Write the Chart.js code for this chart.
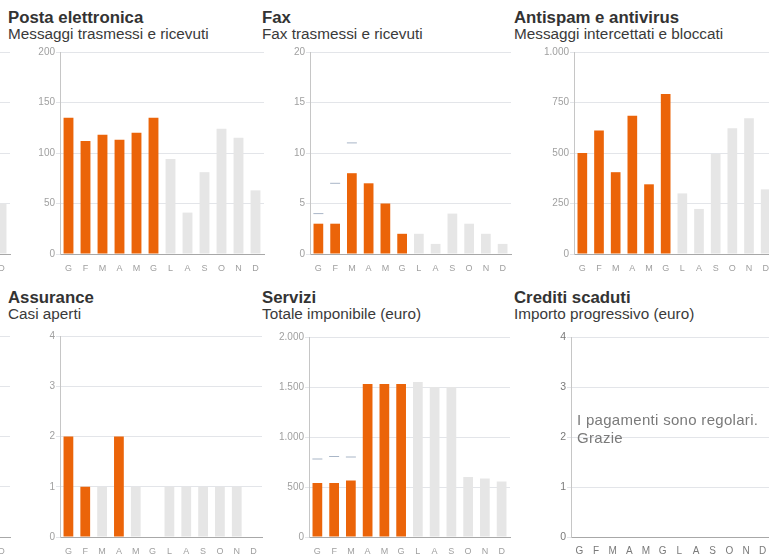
<!DOCTYPE html>
<html><head><meta charset="utf-8">
<script src="https://cdn.jsdelivr.net/npm/chart.js@4/dist/chart.umd.min.js"></script>
<style>
html,body{margin:0;padding:0;background:#fff;}
#wrap{position:relative;width:769px;height:559px;overflow:hidden;font-family:'Liberation Sans',Arial,sans-serif;background:#fff;}
.t{position:absolute;font-weight:bold;font-size:16.8px;line-height:16.8px;color:#333;white-space:nowrap;}
.s{position:absolute;font-size:15.3px;line-height:15.3px;color:#3a3a3a;white-space:nowrap;}
.note{position:absolute;font-size:15px;line-height:18px;letter-spacing:0.3px;color:#7a7a7a;white-space:nowrap;}
canvas{position:absolute;}
</style></head>
<body><div id="wrap"></div>
<script>
// ---- data ----
const months = ['G','F','M','A','M','G','L','A','S','O','N','D'];

const postaCurrent  = [135,112,118,113,120,135,null,null,null,null,null,null];
const postaPrevious = [null,null,null,null,null,null,94,41,81,124,115,63];

const faxCurrent  = [3,3,8,7,5,2,null,null,null,null,null,null];
const faxPrevious = [null,null,null,null,null,null,2,1,4,3,2,1];
const faxMarks    = [4,7,11,null,null,null,null,null,null,null,null,null];

const antispamCurrent  = [500,612,405,685,345,792,null,null,null,null,null,null];
const antispamPrevious = [null,null,null,null,null,null,300,223,495,622,672,320];

const assuranceCurrent  = [2,1,null,2,null,null,null,null,null,null,null,null];
const assurancePrevious = [null,null,1,null,1,0,1,1,1,1,1,0];

const serviziCurrent  = [540,540,565,1530,1530,1530,null,null,null,null,null,null];
const serviziPrevious = [null,null,null,null,null,null,1550,1500,1500,600,585,555];
const serviziMarks    = [780,805,800,null,null,null,null,null,null,null,null,null];

const creditiValues = [];
const creditiNote = ['I pagamenti sono regolari.', 'Grazie'];

// partially visible neighbouring charts at the left edge
const leftTopPrevious = [null,null,null,null,null,null,null,null,null,null,null,1];
const leftBottomPrevious = [];

const titles = [
  ['Posta elettronica','Messaggi trasmessi e ricevuti'],
  ['Fax','Fax trasmessi e ricevuti'],
  ['Antispam e antivirus','Messaggi intercettati e bloccati'],
  ['Assurance','Casi aperti'],
  ['Servizi','Totale imponibile (euro)'],
  ['Crediti scaduti','Importo progressivo (euro)']
];

// ---- layout / style ----
const ORANGE = '#eb6409';
const GRAY = '#e6e6e6';
const YW = 40, PT = 8, PR = 6, XH = 22;
const wrap = document.getElementById('wrap');

function fmt(v){ return String(v).replace(/\B(?=(\d{3})+(?!\d))/g,'.'); }

function makeChart(p){
  const c = document.createElement('canvas');
  const L = Math.round(p.plotLeft - YW), T = Math.round(p.plotTop - PT);
  const W = YW + Math.round(p.plotRight - p.plotLeft) + PR;
  const H = PT + Math.round(p.plotBottom - p.plotTop) + XH;
  c.width = W; c.height = H;
  c.style.left = L+'px'; c.style.top = T+'px';
  c.style.width = W+'px'; c.style.height = H+'px';
  wrap.appendChild(c);
  const tickColor = p.dark ? '#7a7a7a' : '#a0a0a0';
  const datasets = [];
  if (p.marks) datasets.push({type:'line', data:p.marks, showLine:false, pointStyle:'line',
      pointRadius:5, pointHoverRadius:5, pointBorderColor:'#a9b6c7', pointBackgroundColor:'#a9b6c7',
      pointBorderWidth:1, borderColor:'#a9b6c7', order:0});
  if (p.current) datasets.push({type:'bar', data:p.current, backgroundColor:ORANGE, order:1});
  if (p.previous) datasets.push({type:'bar', data:p.previous, backgroundColor:GRAY, order:2});
  new Chart(c, {
    type:'bar',
    data:{labels:months, datasets},
    options:{
      responsive:false, animation:false, events:[],
      layout:{padding:{top:PT, right:PR, left:0, bottom:0}},
      datasets:{bar:{grouped:false, barPercentage:0.58, categoryPercentage:1}},
      plugins:{legend:{display:false}, tooltip:{enabled:false}},
      scales:{
        x:{offset:true,
           grid:{display:false, drawTicks:false},
           border:{display:true, color:'#a8a8a8'},
           ticks:{color:tickColor, font:{size:p.dark?10:9, family:"'Liberation Sans',Arial"}, padding:p.dark?8:9, autoSkip:false, maxRotation:0},
           afterFit(s){ s.height = XH; }},
        y:{min:0, max:p.max,
           ticks:{stepSize:p.step, color:tickColor, font:{size:p.dark?10.5:10, family:"'Liberation Sans',Arial"}, padding:1, callback:fmt},
           grid:{color:'#e3e5e9', tickLength:4, drawTicks:true},
           border:{color:'#c6c6c6'},
           afterFit(s){ s.width = YW; }}
      }
    }
  });
}

// left-edge fragments
makeChart({plotLeft:-191.6, plotRight:10.4, plotTop:52, plotBottom:254, max:4, step:1, previous:leftTopPrevious});
makeChart({plotLeft:-191.6, plotRight:10.4, plotTop:336, plotBottom:537, max:4, step:1, previous:leftBottomPrevious});

makeChart({plotLeft:60, plotRight:264, plotTop:52, plotBottom:254, max:200, step:50, current:postaCurrent, previous:postaPrevious});
makeChart({plotLeft:310, plotRight:511, plotTop:52, plotBottom:254, max:20, step:5, current:faxCurrent, previous:faxPrevious, marks:faxMarks});
makeChart({plotLeft:574, plotRight:774, plotTop:52, plotBottom:254, max:1000, step:250, current:antispamCurrent, previous:antispamPrevious});
makeChart({plotLeft:60, plotRight:262, plotTop:336, plotBottom:537, max:4, step:1, current:assuranceCurrent, previous:assurancePrevious});
makeChart({plotLeft:309, plotRight:510, plotTop:337, plotBottom:537, max:2000, step:500, current:serviziCurrent, previous:serviziPrevious, marks:serviziMarks});
makeChart({plotLeft:571, plotRight:771, plotTop:337, plotBottom:537, max:4, step:1, current:creditiValues, dark:true});

// titles
const tx = [8, 262, 514];
titles.forEach((t,i)=>{
  const row = Math.floor(i/3), col = i%3;
  const a = document.createElement('div'); a.className='t'; a.textContent=t[0];
  a.style.left = tx[col]+'px'; a.style.top = (10 + row*280)+'px'; wrap.appendChild(a);
  const b = document.createElement('div'); b.className='s'; b.textContent=t[1];
  b.style.left = tx[col]+'px'; b.style.top = (26 + row*280)+'px'; wrap.appendChild(b);
});

const n = document.createElement('div'); n.className='note';
n.innerHTML = creditiNote.join('<br>');
n.style.left='577px'; n.style.top='411px';
wrap.appendChild(n);
</script>
</body></html>
